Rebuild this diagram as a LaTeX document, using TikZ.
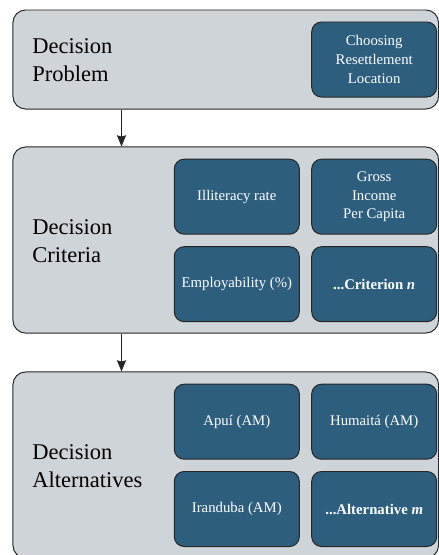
\documentclass[tikz,border=0pt]{standalone}
\usepackage{fontspec}
\setmainfont{Liberation Serif}
\usetikzlibrary{arrows.meta, positioning}
\definecolor{stagegray}{HTML}{CFD4D9}
\definecolor{factorblue}{HTML}{2D5E7E}

\begin{document}
\begin{tikzpicture}[x=0.025cm, y=-0.025cm,
  stage/.style={draw=black!85, line width=0.7pt, fill=stagegray, rounded corners=9pt,
    minimum width=10.6375cm, inner sep=0pt},
  factor/.style={draw=black!85, line width=0.7pt, fill=factorblue, rounded corners=7pt,
    minimum width=3.125cm, minimum height=1.875cm, inner sep=2pt, align=center,
    text=white, font=\fontsize{10.5}{13.2}\selectfont},
  heading/.style={anchor=west, align=left, inner sep=0pt, font=\fontsize{16}{20.2}\selectfont},
  flow/.style={-{Stealth[length=8pt, width=6.5pt, inset=1pt]}, line width=0.8pt, draw=black!85}]
% Page frame, panels run off the right and bottom edges
\useasboundingbox (0,0) rectangle (439,555);
\clip (0,0) rectangle (439,555);

% Stages
\node[stage, minimum height=2.475cm] (prob) at (225.75,59.5) {};
\node[stage, minimum height=4.65cm] (crit) at (225.75,240) {};
\node[stage, minimum height=4.65cm] (alt) at (225.75,465) {};

% Stage names
\node[heading] (probtxt) at (32,60) {Decision\\Problem};
\node[heading] (crittxt) at (32,241) {Decision\\Criteria};
\node[heading] (alttxt) at (32,466) {Decision\\Alternatives};

% Problem
\node[factor] (choose) at (374.2,59.5) {Choosing\\Resettlement\\Location};

% Criteria
\node[factor] (illit) at (236.8,196.7) {Illiteracy rate};
\node[factor] (gross) at (374.2,196.7) {Gross\\Income\\Per Capita};
\node[factor] (employ) at (236.8,284.2) {Employability (\%)};
\node[factor] (critn) at (374.2,284.2) {\textbf{...Criterion \textit{n}}};

% Alternatives
\node[factor] (apui) at (236.8,421.7) {Apuí (AM)};
\node[factor] (humaita) at (374.2,421.7) {Humaitá (AM)};
\node[factor] (iranduba) at (236.8,509) {Iranduba (AM)};
\node[factor] (altm) at (374.2,509) {\textbf{...Alternative \textit{m}}};

% Arrows between stages
\coordinate (axis) at (121.5,0);
\draw[flow] (prob.south -| axis) -- (crit.north -| axis);
\draw[flow] (crit.south -| axis) -- (alt.north -| axis);

\end{tikzpicture}
\end{document}
